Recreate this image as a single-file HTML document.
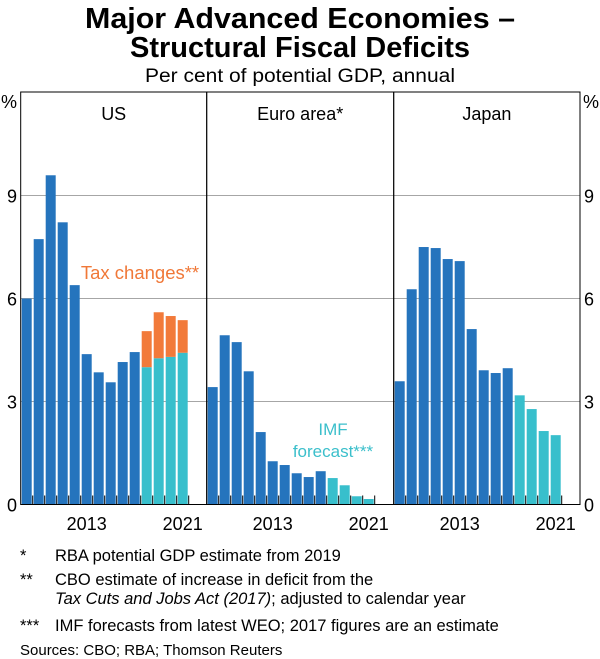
<!DOCTYPE html>
<html><head><meta charset="utf-8">
<style>
body{margin:0;background:#fff;}
svg{display:block;font-family:"Liberation Sans",Arial,sans-serif;}
</style></head>
<body>
<svg id="chart" width="600" height="659" viewBox="0 0 600 659" xmlns="http://www.w3.org/2000/svg">
<text x="300" y="28" text-anchor="middle" font-size="29" font-weight="bold" textLength="430" lengthAdjust="spacingAndGlyphs">Major Advanced Economies –</text>
<text x="300" y="57" text-anchor="middle" font-size="29" font-weight="bold" textLength="340" lengthAdjust="spacingAndGlyphs">Structural Fiscal Deficits</text>
<text x="300" y="82" text-anchor="middle" font-size="19" textLength="310" lengthAdjust="spacingAndGlyphs">Per cent of potential GDP, annual</text>
<g id="grid"></g>
<g id="bars"></g>
<g id="axes"></g>
<text x="140" y="279" text-anchor="middle" font-size="18.5" fill="#f07838">Tax changes**</text>
<text x="333" y="435" text-anchor="middle" font-size="17" fill="#3bbfcb">IMF</text>
<text x="333" y="457" text-anchor="middle" font-size="17" fill="#3bbfcb">forecast***</text>
<g font-size="16.5" fill="#000">
<text x="20" y="561">*</text><text x="55" y="561">RBA potential GDP estimate from 2019</text>
<text x="20" y="585">**</text><text x="55" y="585">CBO estimate of increase in deficit from the</text>
<text x="55" y="604"><tspan font-style="italic">Tax Cuts and Jobs Act (2017)</tspan>; adjusted to calendar year</text>
<text x="20" y="631">***</text><text x="55" y="631">IMF forecasts from latest WEO; 2017 figures are an estimate</text>
<text x="20" y="655" font-size="15">Sources: CBO; RBA; Thomson Reuters</text>
</g>
</svg>
<script>
const years = [2008,2009,2010,2011,2012,2013,2014,2015,2016,2017,2018,2019,2020,2021];
const panels = ["US","Euro area*","Japan"];
const usActual = [6.0,7.73,9.59,8.22,6.39,4.38,3.85,3.56,4.15,4.44,null,null,null,null];
const usForecast = [null,null,null,null,null,null,null,null,null,null,4.0,4.26,4.30,4.42];
const usTaxChanges = [null,null,null,null,null,null,null,null,null,null,1.05,1.34,1.19,0.95];
const euroActual = [3.42,4.93,4.73,3.88,2.11,1.26,1.15,0.91,0.80,0.97,null,null,null,null];
const euroForecast = [null,null,null,null,null,null,null,null,null,null,0.77,0.56,0.24,0.16];
const japanActual = [3.59,6.27,7.50,7.47,7.15,7.09,5.11,3.91,3.83,3.97,null,null,null,null];
const japanForecast = [null,null,null,null,null,null,null,null,null,null,3.18,2.78,2.14,2.02];
const yTicks = [0,3,6,9];
const xTickLabels = [2013,2021];

const NS="http://www.w3.org/2000/svg";
const plotTop=92, base=504.5, unit=34.33;
const panelX=[20.7,206.7,393.7], panelR=580, slot=12, barW=10;
const yS = v => base - v*unit;
const xS = (p,i) => panelX[p] + 1 + i*slot;
function mk(tag, attrs, parent){const e=document.createElementNS(NS,tag);for(const k in attrs)e.setAttribute(k,attrs[k]);parent.appendChild(e);return e;}
const grid=document.getElementById('grid'), bars=document.getElementById('bars'), axes=document.getElementById('axes');

yTicks.forEach(t=>{
  if(t>0){const l=mk('line',{x1:20.7,x2:panelR,y1:yS(t),y2:yS(t),stroke:'#a6a6a6','stroke-width':1},grid);
  
  }
  const a=mk('text',{x:12,y:yS(t)+7,'text-anchor':'middle','font-size':18},axes);a.textContent=t;
  
  
  const b=mk('text',{x:589,y:yS(t)+7,'text-anchor':'middle','font-size':18},axes);b.textContent=t;
  
  
});
const p1=mk('text',{x:9,y:108,'text-anchor':'middle','font-size':18},axes);p1.textContent='%';


const p2=mk('text',{x:591,y:108,'text-anchor':'middle','font-size':18},axes);p2.textContent='%';



const series=[
  [[usActual,'#2574bd'],[usForecast,'#38bfcc']],
  [[euroActual,'#2574bd'],[euroForecast,'#38bfcc']],
  [[japanActual,'#2574bd'],[japanForecast,'#38bfcc']]
];
series.forEach((ss,p)=>{
  ss.forEach(([arr,col])=>{
    arr.forEach((v,i)=>{
      if(v==null)return;
      const r=mk('rect',{x:xS(p,i),y:yS(v),width:barW,height:base-yS(v),fill:col},bars);
      
      
      if(p===0 && usTaxChanges[i]!=null){
        const t=mk('rect',{x:xS(p,i),y:yS(v+usTaxChanges[i]),width:barW,height:usTaxChanges[i]*unit,fill:'#f27a3a'},bars);
        
        
      }
    });
  });
});

panels.forEach((name,p)=>{
  const x0=panelX[p], x1=p<2?panelX[p+1]:panelR;
  const r=mk('rect',{x:x0,y:plotTop,width:x1-x0,height:base-plotTop,fill:'none',stroke:'#000','stroke-width':1},axes);
  
  
  const t=mk('text',{x:(x0+x1)/2,y:120,'text-anchor':'middle','font-size':18},axes);t.textContent=name;
  
  
  for(let k=1;k<=years.length;k++){
    const tx=x0+k*slot;
    if(tx>=x1-1)break;
    const l=mk('line',{x1:tx,x2:tx,y1:base-9,y2:base,stroke:'#000','stroke-width':1},axes);
    
    
  }
  xTickLabels.forEach(y=>{
    const i=years.indexOf(y);
    const lb=mk('text',{x:xS(p,i)+barW/2,y:530,'text-anchor':'middle','font-size':18},axes);lb.textContent=y;
    
    
  });
});
</script>
</body></html>
